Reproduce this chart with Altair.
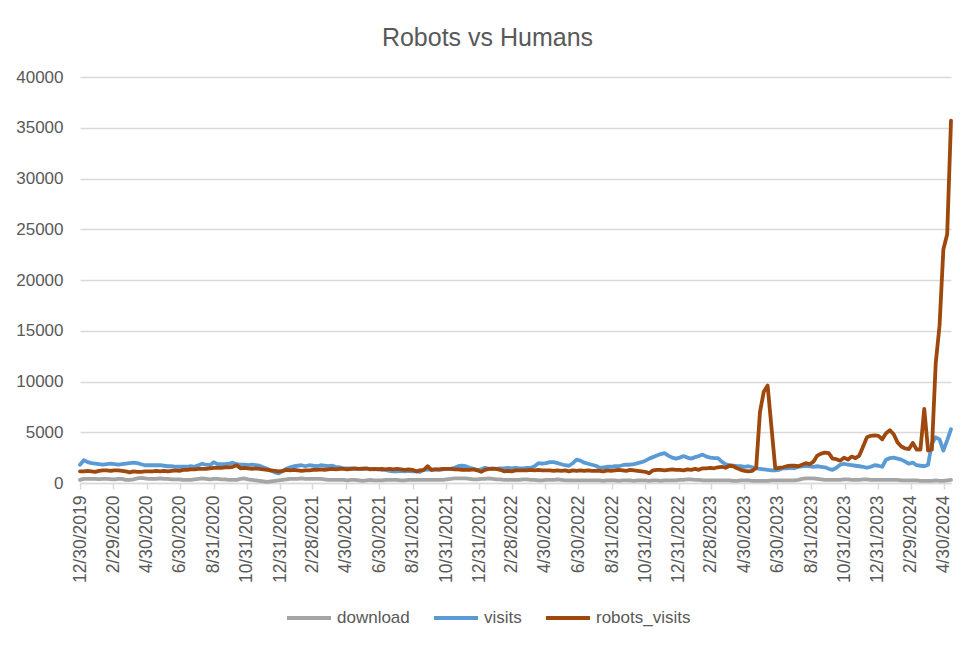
import altair as alt
import pandas as pd

# ---- data (weekly, starting Monday 12/30/2019) ----
start_date = "2019-12-30"

download = [
    300, 400, 400, 400, 400, 380, 400, 400, 380, 350,
    400, 400, 300, 300, 350, 450, 500, 450, 400, 400,
    400, 450, 400, 400, 350, 350, 350, 300, 300, 300,
    350, 400, 450, 400, 350, 400, 400, 350, 350, 300,
    300, 300, 400, 450, 350, 300, 250, 200, 150, 100,
    150, 200, 250, 300, 350, 400, 400, 400, 450, 400,
    400, 400, 400, 400, 350, 300, 300, 300, 300, 300,
    250, 300, 300, 250, 200, 250, 300, 250, 250, 250,
    300, 300, 300, 300, 250, 250, 300, 300, 300, 300,
    300, 300, 300, 300, 300, 300, 350, 400, 450, 450,
    450, 450, 400, 350, 350, 400, 400, 450, 400, 350,
    350, 300, 300, 300, 300, 300, 350, 350, 300, 300,
    250, 250, 300, 300, 300, 350, 300, 250, 250, 250,
    250, 250, 250, 250, 250, 250, 250, 200, 250, 250,
    250, 200, 250, 250, 250, 200, 250, 250, 250, 200,
    250, 250, 200, 250, 250, 250, 250, 300, 300, 350,
    350, 300, 300, 250, 250, 250, 250, 250, 250, 250,
    250, 200, 200, 250, 250, 250, 200, 200, 200, 200,
    200, 250, 250, 250, 250, 250, 250, 250, 300, 400,
    450, 450, 450, 400, 350, 300, 300, 300, 300, 300,
    350, 350, 300, 300, 300, 350, 350, 300, 300, 300,
    300, 300, 300, 300, 300, 250, 250, 250, 250, 250,
    200, 200, 200, 200, 250, 200, 200, 250, 300,
]

visits = [
    1800, 2250, 2050, 1950, 1900, 1850, 1800, 1850, 1900, 1850,
    1800, 1850, 1900, 1950, 2000, 1950, 1850, 1750, 1750, 1750,
    1750, 1750, 1700, 1650, 1650, 1600, 1600, 1600, 1600, 1650,
    1600, 1750, 1900, 1800, 1750, 2050, 1850, 1850, 1850, 1900,
    2000, 1850, 1800, 1800, 1750, 1800, 1750, 1700, 1550, 1400,
    1200, 1050, 950, 1150, 1400, 1550, 1650, 1700, 1750, 1650,
    1750, 1700, 1650, 1750, 1700, 1650, 1700, 1600, 1550, 1450,
    1450, 1450, 1400, 1400, 1450, 1400, 1400, 1350, 1400, 1300,
    1300, 1200, 1150, 1150, 1200, 1150, 1200, 1150, 1150, 1100,
    1300, 1350, 1300, 1350, 1300, 1350, 1400, 1400, 1500, 1650,
    1700, 1650, 1500, 1400, 1300, 1350, 1500, 1400, 1450, 1400,
    1450, 1450, 1500, 1450, 1500, 1450, 1450, 1500, 1500, 1650,
    1950, 1900, 1950, 2050, 2050, 1950, 1850, 1750, 1700, 1950,
    2300, 2200, 2000, 1900, 1800, 1700, 1500, 1550, 1600, 1600,
    1650, 1650, 1750, 1800, 1800, 1850, 1950, 2050, 2200, 2400,
    2550, 2700, 2850, 2950, 2700, 2500, 2400, 2500, 2650, 2500,
    2400, 2550, 2650, 2800, 2600, 2500, 2450, 2450, 2100, 1850,
    1750, 1700, 1650, 1650, 1600, 1650, 1550, 1450, 1400, 1350,
    1300, 1250, 1250, 1300, 1450, 1450, 1500, 1450, 1600, 1650,
    1700, 1650, 1600, 1650, 1600, 1550, 1400, 1300, 1500, 1800,
    1900, 1800, 1750, 1700, 1650, 1600, 1500, 1600, 1750, 1700,
    1600, 2300, 2450, 2500, 2400, 2300, 2100, 1900, 2000, 1750,
    1700, 1650, 1800, 3900, 4500, 4300, 3200, 4200, 5300,
]

robots_visits = [
    1150, 1150, 1200, 1150, 1100, 1200, 1250, 1250, 1200, 1250,
    1250, 1200, 1150, 1050, 1150, 1100, 1100, 1150, 1150, 1150,
    1200, 1150, 1200, 1150, 1200, 1250, 1200, 1300, 1300, 1350,
    1350, 1400, 1400, 1400, 1450, 1500, 1500, 1500, 1550, 1550,
    1600, 1750, 1450, 1500, 1450, 1400, 1450, 1400, 1350, 1300,
    1250, 1200, 1150, 1200, 1300, 1250, 1300, 1250, 1200, 1250,
    1250, 1300, 1300, 1350, 1300, 1350, 1400, 1350, 1400, 1400,
    1350, 1400, 1450, 1400, 1400, 1450, 1350, 1400, 1350, 1400,
    1350, 1400, 1350, 1400, 1350, 1300, 1350, 1300, 1150, 1250,
    1300, 1650, 1300, 1350, 1350, 1400, 1400, 1400, 1350, 1350,
    1300, 1300, 1300, 1350, 1250, 1100, 1300, 1400, 1400, 1400,
    1300, 1150, 1200, 1150, 1250, 1250, 1250, 1250, 1300, 1250,
    1300, 1250, 1250, 1250, 1200, 1250, 1200, 1250, 1150, 1250,
    1200, 1250, 1200, 1250, 1200, 1200, 1200, 1150, 1250, 1200,
    1250, 1300, 1250, 1200, 1300, 1250, 1200, 1150, 1100, 950,
    1250, 1300, 1300, 1250, 1300, 1350, 1300, 1300, 1250, 1350,
    1300, 1400, 1300, 1450, 1450, 1500, 1450, 1550, 1600, 1500,
    1700, 1650, 1450, 1300, 1200, 1150, 1200, 1500, 7000, 9000,
    9600, 5500, 1450, 1500, 1550, 1650, 1700, 1700, 1650, 1800,
    1950, 1850, 2100, 2700, 2900, 3000, 2950, 2400, 2350, 2200,
    2500, 2300, 2600, 2450, 2700, 3600, 4500, 4650, 4700, 4650,
    4300, 4900, 5200, 4800, 4000, 3600, 3400, 3350, 3950, 3300,
    3300, 7300, 3200, 3300, 11800, 15500, 23000, 24500, 35700,
]

series_names = ["download", "visits", "robots_visits"]
series_colors = ["#A5A5A5", "#5B9BD5", "#9E480E"]

tick_dates = [
    (2019, 12, 30), (2020, 2, 29), (2020, 4, 30), (2020, 6, 30), (2020, 8, 31),
    (2020, 10, 31), (2020, 12, 31), (2021, 2, 28), (2021, 4, 30), (2021, 6, 30),
    (2021, 8, 31), (2021, 10, 31), (2021, 12, 31), (2022, 2, 28), (2022, 4, 30),
    (2022, 6, 30), (2022, 8, 31), (2022, 10, 31), (2022, 12, 31), (2023, 2, 28),
    (2023, 4, 30), (2023, 6, 30), (2023, 8, 31), (2023, 10, 31), (2023, 12, 31),
    (2024, 2, 29), (2024, 4, 30),
]
y_ticks = [0, 5000, 10000, 15000, 20000, 25000, 30000, 35000, 40000]

# ---- build table ----
n = len(visits)
dates = pd.date_range(start_date, periods=n, freq="7D")
date_str = [d.strftime("%Y-%m-%dT00:00:00") for d in dates]
rows = []
for name, vals in zip(series_names, [download, visits, robots_visits]):
    for d, v in zip(date_str, vals):
        rows.append({"date": d, "series": name, "value": v})
df = pd.DataFrame(rows)

FONT = "Liberation Sans"
TXT = "#595959"
GRID = "#D9D9D9"

x_vals = [alt.DateTime(year=y, month=m, date=d) for (y, m, d) in tick_dates]
end = dates[-1]

chart = (
    alt.Chart(df)
    .mark_line(strokeWidth=3.8, strokeCap="round", strokeJoin="round")
    .encode(
        x=alt.X(
            "date:T",
            scale=alt.Scale(
                domain=[
                    alt.DateTime(year=2019, month=12, date=30),
                    alt.DateTime(year=end.year, month=end.month, date=end.day),
                ],
                nice=False,
            ),
            axis=alt.Axis(
                title=None,
                values=x_vals,
                format="%-m/%-d/%Y",
                formatType="time",
                labelAngle=-90,
                labelFont=FONT,
                labelFontSize=17.5,
                labelColor=TXT,
                labelPadding=6,
                labelOverlap=False,
                labelFlush=False,
                grid=False,
                domainColor=GRID,
                domainWidth=1.5,
                tickColor=GRID,
                tickWidth=1.5,
                tickSize=6,
            ),
        ),
        y=alt.Y(
            "value:Q",
            scale=alt.Scale(domain=[0, 40000], nice=False),
            axis=alt.Axis(
                title=None,
                values=y_ticks,
                format="d",
                labelFont=FONT,
                labelFontSize=17,
                labelColor=TXT,
                labelPadding=17,
                domain=False,
                ticks=False,
                grid=True,
                gridColor=GRID,
                gridWidth=1.5,
            ),
        ),
        color=alt.Color(
            "series:N",
            scale=alt.Scale(domain=series_names, range=series_colors),
            sort=series_names,
            legend=alt.Legend(
                title=None,
                orient="none",
                legendX=205,
                legendY=517,
                direction="horizontal",
                symbolType="stroke",
                symbolSize=1936,
                symbolStrokeWidth=4,
                labelFont=FONT,
                labelFontSize=17,
                labelColor=TXT,
                labelOffset=4,
                columnPadding=16,
                padding=0,
            ),
        ),
    )
    .properties(
        width=871,
        height=406,
        padding={"left": 72, "top": 69, "right": 15, "bottom": 157},
        autosize=alt.AutoSizeParams(type="none"),
        title=alt.Title(
            "Robots vs Humans",
            font=FONT,
            fontSize=25,
            fontWeight="normal",
            color=TXT,
            anchor="middle",
            baseline="alphabetic",
            offset=32,
            dx=-28,
            dy=35,
        ),
    )
    .configure_view(stroke=None)
)

chart.save("out.html", embed_options={"renderer": "svg", "actions": False})
